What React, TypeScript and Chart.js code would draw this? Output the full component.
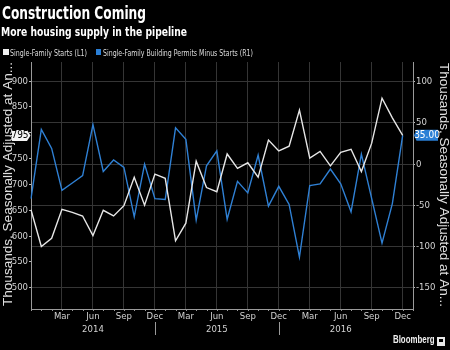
import React, { useEffect, useRef } from 'react';
import { Chart, registerables } from 'chart.js';

Chart.register(...registerables);

const months = [
  'Dec 2013',
  'Jan 2014', 'Feb 2014', 'Mar 2014', 'Apr 2014', 'May 2014', 'Jun 2014', 'Jul 2014', 'Aug 2014', 'Sep 2014', 'Oct 2014', 'Nov 2014', 'Dec 2014',
  'Jan 2015', 'Feb 2015', 'Mar 2015', 'Apr 2015', 'May 2015', 'Jun 2015', 'Jul 2015', 'Aug 2015', 'Sep 2015', 'Oct 2015', 'Nov 2015', 'Dec 2015',
  'Jan 2016', 'Feb 2016', 'Mar 2016', 'Apr 2016', 'May 2016', 'Jun 2016', 'Jul 2016', 'Aug 2016', 'Sep 2016', 'Oct 2016', 'Nov 2016', 'Dec 2016',
  'Jan 2017',
];

const singleFamilyStarts = [
  651,
  580, 596, 652, 646, 639, 601, 650, 639, 659, 714, 660, 720,
  712, 591, 625, 745, 694, 686, 759, 731, 742, 714, 786, 765,
  774, 844, 751, 764, 736, 762, 768, 725, 780, 867, 829, 795,
];

const permitsMinusStarts = [
  -42,
  42, 19, -32, -23, -14, 48, -9, 5, -4, -64, 0, -42,
  -43, 44, 30, -68, -2, 16, -67, -21, -35, 11, -51, -27,
  -49, -113, -26, -24, -6, -24, -58, 12, -42, -96, -48, 35,
];

const leftTicks = [500, 550, 600, 650, 700, 750, 800, 850, 900];
const rightTicks = [-150, -100, -50, 0, 50, 100];
const quarterMonths = ['Mar', 'Jun', 'Sep', 'Dec'];
const yearLabelMonth = 'Jun';

const TITLE = 'Construction Coming';
const SUBTITLE = 'More housing supply in the pipeline';
const LEGEND_STARTS = 'Single-Family Starts (L1)';
const LEGEND_PERMITS = 'Single-Family Building Permits Minus Starts (R1)';
const AXIS_TITLE = 'Thousands, Seasonally Adjusted at An...';
const SOURCE = 'Bloomberg';

const NARROW = '"Liberation Sans Narrow", "DejaVu Sans Condensed", "Liberation Sans", sans-serif';
const SANS = '"Liberation Sans", "DejaVu Sans", sans-serif';
const WHITE_LINE = '#e6e6e6';
const BLUE_LINE = '#2f80d4';
const BLUE_TAG = '#2a7fd6';
const GRID = '#353535';
const AXIS = '#9a9a9a';
const TICK_TEXT = '#d2d2d2';

function fitText(c: CanvasRenderingContext2D, text: string, x: number, y: number, width: number, font: string, color: string) {
  c.save();
  c.font = font;
  c.fillStyle = color;
  c.textAlign = 'left';
  c.textBaseline = 'alphabetic';
  const w = c.measureText(text).width;
  c.translate(x, y);
  c.scale(width / w, 1);
  c.fillText(text, 0, 0);
  c.restore();
}

function rotatedText(c: CanvasRenderingContext2D, text: string, x: number, y: number, angle: number, length: number, font: string, color: string) {
  c.save();
  c.translate(x, y);
  c.rotate(angle);
  c.font = font;
  c.fillStyle = color;
  c.textAlign = 'left';
  c.textBaseline = 'alphabetic';
  const w = c.measureText(text).width;
  c.scale(length / w, 1);
  c.fillText(text, 0, 0);
  c.restore();
}

const overlay = {
  id: 'overlay',
  beforeDraw(chart: any) {
    const c = chart.ctx;
    c.save();
    c.fillStyle = '#000';
    c.fillRect(0, 0, chart.width, chart.height);
    c.restore();
  },
  afterDraw(chart: any) {
    const c: CanvasRenderingContext2D = chart.ctx;
    const { bottom } = chart.chartArea;
    const xs = chart.scales.x;
    const yL = chart.scales.yL;
    const yR = chart.scales.yR;

    // titles
    fitText(c, TITLE, 2, 19, 144, `bold 17px ${NARROW}`, '#ffffff');
    fitText(c, SUBTITLE, 1, 36, 186, `bold 13px ${NARROW}`, '#ffffff');

    // legend
    c.save();
    c.fillStyle = '#f0f0f0';
    c.fillRect(3, 49, 6, 6);
    c.fillStyle = BLUE_TAG;
    c.fillRect(96, 49, 5, 6);
    c.restore();
    fitText(c, LEGEND_STARTS, 10, 56, 77, `9px ${NARROW}`, '#dcdcdc');
    fitText(c, LEGEND_PERMITS, 103, 56, 150, `9px ${NARROW}`, '#dcdcdc');

    // axis titles
    rotatedText(c, AXIS_TITLE, 11.5, 306, -Math.PI / 2, 244, `12px ${SANS}`, '#e0e0e0');
    rotatedText(c, AXIS_TITLE, 440, 63, Math.PI / 2, 244, `12px ${SANS}`, '#e0e0e0');

    // minor month ticks and year separators
    c.save();
    c.strokeStyle = AXIS;
    c.lineWidth = 1;
    months.forEach((m, i) => {
      const px = Math.round(xs.getPixelForValue(i)) + 0.5;
      c.beginPath();
      c.moveTo(px, bottom);
      c.lineTo(px, bottom + 2);
      c.stroke();
      if (m.startsWith('Dec') && i > 0 && i < months.length - 2) {
        c.beginPath();
        c.moveTo(px, bottom + 13);
        c.lineTo(px, bottom + 26);
        c.stroke();
      }
    });
    c.restore();

    // last value tags
    const lastStarts = singleFamilyStarts[singleFamilyStarts.length - 1];
    const lastPermits = permitsMinusStarts[permitsMinusStarts.length - 1];
    const ly = yL.getPixelForValue(lastStarts);
    c.save();
    c.fillStyle = '#f4f4f4';
    c.beginPath();
    c.moveTo(12, ly - 5.5);
    c.lineTo(27, ly - 5.5);
    c.lineTo(30.5, ly);
    c.lineTo(27, ly + 5.5);
    c.lineTo(12, ly + 5.5);
    c.closePath();
    c.fill();
    c.fillStyle = '#000';
    c.font = `10px ${NARROW}`;
    c.textAlign = 'center';
    c.textBaseline = 'middle';
    c.fillText(String(lastStarts), 20, ly + 0.5);
    c.restore();

    const ry = yR.getPixelForValue(lastPermits);
    c.save();
    c.fillStyle = BLUE_TAG;
    c.beginPath();
    c.moveTo(414, ry);
    c.lineTo(416.5, ry - 5.5);
    c.lineTo(438, ry - 5.5);
    c.lineTo(438, ry + 5.5);
    c.lineTo(416.5, ry + 5.5);
    c.closePath();
    c.fill();
    c.fillStyle = '#ffffff';
    c.font = `10px ${NARROW}`;
    c.textAlign = 'center';
    c.textBaseline = 'middle';
    c.fillText(lastPermits.toFixed(2), 427, ry + 0.5);
    c.restore();

    // source
    fitText(c, SOURCE, 393, 343, 41.5, `bold 10px ${SANS}`, '#f0f0f0');
    c.save();
    c.fillStyle = '#e8e8e8';
    c.fillRect(437, 337, 8, 9);
    c.fillStyle = '#000';
    c.fillRect(439, 339, 4, 3);
    c.restore();
  },
};

export default function App() {
  const ref = useRef<HTMLCanvasElement>(null);

  useEffect(() => {
    document.body.style.margin = '0';
    document.body.style.background = '#000';
    const canvas = ref.current;
    if (!canvas) return;
    const tickFont = { family: NARROW, size: 9.5 };
    const chart = new Chart(canvas, {
      type: 'line',
      data: {
        labels: months,
        datasets: [
          {
            label: LEGEND_STARTS,
            data: [...singleFamilyStarts, null],
            yAxisID: 'yL',
            borderColor: WHITE_LINE,
            borderWidth: 1.4,
            pointRadius: 0,
            tension: 0,
          },
          {
            label: LEGEND_PERMITS,
            data: [...permitsMinusStarts, null],
            yAxisID: 'yR',
            borderColor: BLUE_LINE,
            borderWidth: 1.4,
            pointRadius: 0,
            tension: 0,
          },
        ],
      },
      options: {
        responsive: false,
        animation: false,
        devicePixelRatio: 1,
        layout: { padding: { top: 62, left: 0, right: 0, bottom: 0 } },
        plugins: {
          legend: { display: false },
          title: { display: false },
          tooltip: { enabled: false },
        },
        scales: {
          x: {
            type: 'category',
            offset: false,
            border: { color: AXIS, width: 1 },
            grid: {
              drawTicks: false,
              color: (ctx: any) => {
                const i = ctx.index;
                const m = months[i] ? months[i].slice(0, 3) : '';
                return i > 0 && quarterMonths.includes(m) ? GRID : 'rgba(0,0,0,0)';
              },
            },
            ticks: {
              autoSkip: false,
              maxRotation: 0,
              minRotation: 0,
              padding: 1,
              color: TICK_TEXT,
              font: { family: NARROW, size: 9.5, lineHeight: 1.4 },
              callback: (_v: any, i: number) => {
                const label = months[i];
                if (!label || i === 0) return '';
                const m = label.slice(0, 3);
                if (!quarterMonths.includes(m)) return '';
                if (m === yearLabelMonth) return [m, label.slice(4)];
                return m;
              },
            },
            afterFit: (s: any) => {
              s.height = 41;
            },
          },
          yL: {
            type: 'linear',
            position: 'left',
            min: 459,
            max: 937,
            afterBuildTicks: (s: any) => {
              s.ticks = leftTicks.map((v) => ({ value: v }));
            },
            border: { color: AXIS, width: 1 },
            grid: { drawOnChartArea: false, tickLength: 2, tickColor: '#bbbbbb' },
            ticks: {
              padding: 1,
              color: TICK_TEXT,
              font: tickFont,
              callback: (v: any) =>
                Math.abs(Number(v) - singleFamilyStarts[singleFamilyStarts.length - 1]) < 15 ? '' : String(v),
            },
            afterFit: (s: any) => {
              s.width = 31;
            },
          },
          yR: {
            type: 'linear',
            position: 'right',
            min: -176,
            max: 124,
            afterBuildTicks: (s: any) => {
              s.ticks = rightTicks.map((v) => ({ value: v }));
            },
            border: { color: AXIS, width: 1 },
            grid: { drawOnChartArea: true, color: GRID, tickLength: 2, tickColor: '#bbbbbb' },
            ticks: {
              padding: 1,
              color: TICK_TEXT,
              font: tickFont,
              callback: (v: any) => String(v),
            },
            afterFit: (s: any) => {
              s.width = 37;
            },
          },
        },
      },
      plugins: [overlay],
    } as any);
    return () => chart.destroy();
  }, []);

  return (
    <div style={{ width: 450, height: 350, background: '#000' }}>
      <canvas ref={ref} width={450} height={350} style={{ display: 'block', width: 450, height: 350 }} />
    </div>
  );
}
